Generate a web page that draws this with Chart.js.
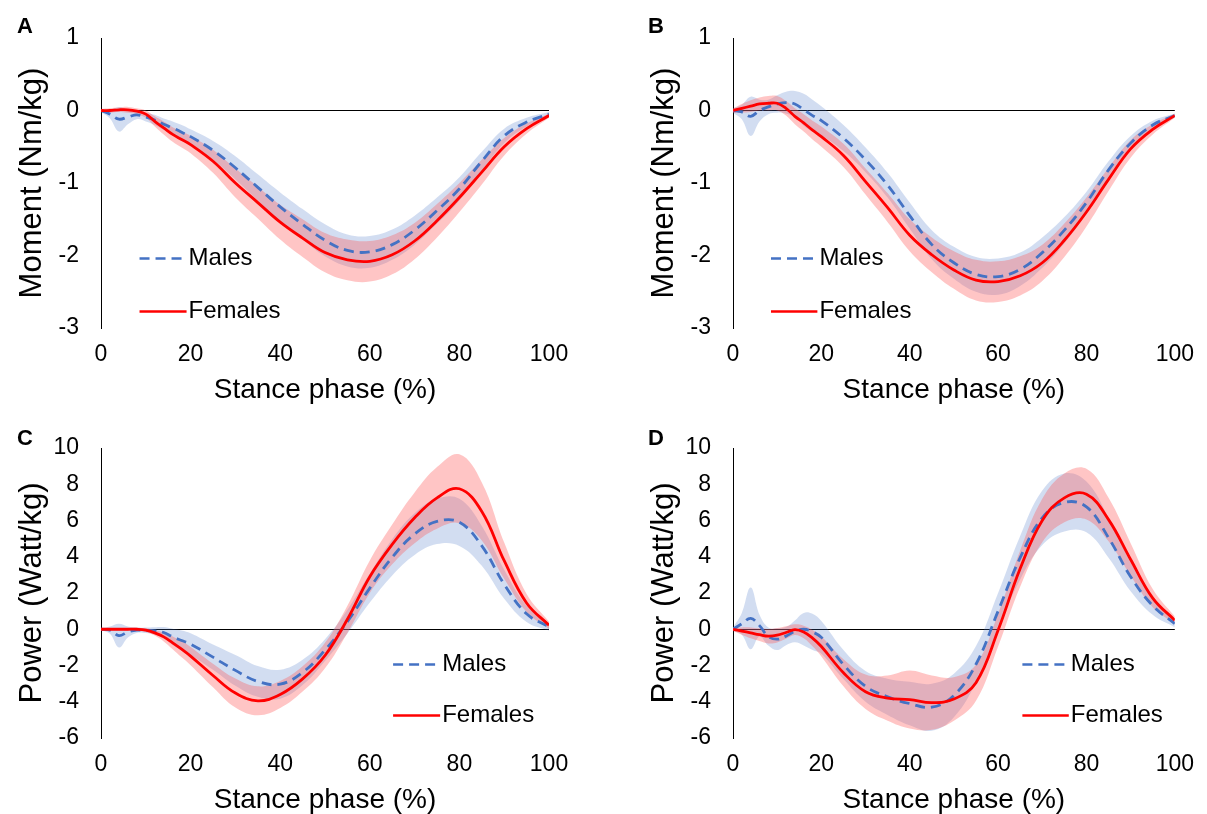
<!DOCTYPE html>
<html>
<head>
<meta charset="utf-8">
<title>Stance phase moment and power</title>
<script src="https://cdn.jsdelivr.net/npm/chart.js@4.4.1/dist/chart.umd.min.js"></script>
<style>
  body {
    margin: 0;
    width: 1207px;
    height: 814px;
    overflow: hidden;
    position: relative;
    background: #fff;
    font-family: Arial, "Liberation Sans", sans-serif;
  }
  .panel { position: absolute; }
  .letter { position: absolute; font-weight: bold; font-size: 22px; color: #000; }
</style>
</head>
<body>
<div class="panel" style="left:0;top:0;width:600px;height:410px"><canvas id="chartA"></canvas></div>
<div class="panel" style="left:632px;top:0;width:575px;height:410px"><canvas id="chartB"></canvas></div>
<div class="panel" style="left:0;top:410px;width:600px;height:404px"><canvas id="chartC"></canvas></div>
<div class="panel" style="left:632px;top:410px;width:575px;height:404px"><canvas id="chartD"></canvas></div>
<div class="letter" style="left:17px;top:13px">A</div>
<div class="letter" style="left:648px;top:13px">B</div>
<div class="letter" style="left:17px;top:425px">C</div>
<div class="letter" style="left:648px;top:425px">D</div>

<script>
const FONT = 'Arial, "Liberation Sans", sans-serif';

// stance phase (%) sample points
const stance = [0, 2, 4, 6, 8, 10, 12, 14, 16, 18, 20, 25, 30, 35, 40, 45, 50, 55, 60, 65, 70, 75, 80, 85, 90, 95, 100];

// A - moment (Nm/kg)
const momentAMales = [0, -0.05, -0.12, -0.09, -0.06, -0.09, -0.13, -0.19, -0.24, -0.3, -0.36, -0.55, -0.79, -1.06, -1.33, -1.57, -1.79, -1.93, -1.95, -1.85, -1.65, -1.38, -1.08, -0.7, -0.35, -0.16, -0.05];
const momentAMalesSd = [0.02, 0.06, 0.17, 0.1, 0.06, 0.06, 0.07, 0.08, 0.09, 0.1, 0.1, 0.13, 0.16, 0.18, 0.2, 0.21, 0.22, 0.22, 0.22, 0.21, 0.2, 0.18, 0.16, 0.13, 0.1, 0.06, 0.03];
const momentAFemales = [0, 0, 0.01, 0.01, -0.01, -0.05, -0.15, -0.24, -0.33, -0.4, -0.47, -0.7, -1.0, -1.27, -1.54, -1.76, -1.96, -2.06, -2.08, -1.99, -1.8, -1.52, -1.2, -0.85, -0.5, -0.25, -0.07];
const momentAFemalesSd = [0.02, 0.03, 0.03, 0.04, 0.04, 0.05, 0.07, 0.09, 0.1, 0.11, 0.12, 0.16, 0.2, 0.22, 0.24, 0.26, 0.27, 0.28, 0.28, 0.27, 0.25, 0.23, 0.2, 0.17, 0.12, 0.07, 0.03];

// B - moment (Nm/kg)
const momentBMales = [0, -0.02, -0.08, 0.0, 0.05, 0.09, 0.11, 0.09, 0.01, -0.07, -0.14, -0.38, -0.68, -1.03, -1.45, -1.85, -2.1, -2.26, -2.29, -2.19, -1.96, -1.65, -1.27, -0.82, -0.45, -0.2, -0.07];
const momentBMalesSd = [0.03, 0.1, 0.27, 0.15, 0.1, 0.12, 0.15, 0.18, 0.22, 0.22, 0.2, 0.18, 0.17, 0.17, 0.18, 0.2, 0.22, 0.24, 0.25, 0.23, 0.21, 0.18, 0.15, 0.12, 0.1, 0.06, 0.03];
const momentBFemales = [0, 0.03, 0.06, 0.09, 0.1, 0.1, 0.03, -0.08, -0.17, -0.27, -0.36, -0.62, -0.98, -1.34, -1.72, -1.99, -2.2, -2.34, -2.36, -2.28, -2.1, -1.79, -1.4, -0.95, -0.53, -0.26, -0.07];
const momentBFemalesSd = [0.03, 0.06, 0.08, 0.09, 0.1, 0.1, 0.1, 0.11, 0.12, 0.13, 0.14, 0.16, 0.18, 0.2, 0.22, 0.24, 0.26, 0.28, 0.28, 0.27, 0.25, 0.23, 0.2, 0.16, 0.12, 0.07, 0.03];

// C - power (Watt/kg)
const powerCMales = [0, -0.05, -0.35, -0.15, -0.05, -0.06, -0.09, -0.18, -0.42, -0.62, -0.82, -1.54, -2.27, -2.88, -3.03, -2.38, -1.15, 0.42, 2.27, 3.97, 5.25, 5.95, 5.9, 4.6, 2.48, 0.85, 0.13];
const powerCMalesSd = [0.05, 0.2, 0.65, 0.3, 0.15, 0.15, 0.2, 0.3, 0.45, 0.55, 0.6, 0.7, 0.85, 0.85, 0.8, 0.7, 0.6, 0.65, 0.8, 1.0, 1.15, 1.25, 1.3, 1.1, 0.8, 0.45, 0.2];
const powerCFemales = [0, 0, 0, 0, 0, -0.05, -0.2, -0.42, -0.75, -1.1, -1.48, -2.55, -3.52, -3.95, -3.6, -2.74, -1.45, 0.55, 2.9, 4.68, 6.15, 7.25, 7.75, 6.5, 3.78, 1.45, 0.22];
const powerCFemalesSd = [0.05, 0.05, 0.06, 0.07, 0.08, 0.1, 0.15, 0.25, 0.35, 0.45, 0.5, 0.65, 0.8, 0.8, 0.75, 0.7, 0.7, 0.75, 0.9, 1.1, 1.4, 1.7, 1.9, 1.6, 1.0, 0.5, 0.2];

// D - power (Watt/kg)
const powerDMales = [0, 0.3, 0.6, 0.2, -0.4, -0.55, -0.38, -0.12, 0.0, -0.15, -0.45, -1.95, -3.15, -3.73, -4.1, -4.3, -3.65, -1.93, 1.0, 3.95, 6.15, 7.0, 6.75, 5.05, 2.9, 1.3, 0.31];
const powerDMalesSd = [0.1, 0.6, 1.7, 0.6, 0.5, 0.6, 0.5, 0.6, 0.9, 1.0, 0.9, 0.8, 0.85, 1.0, 1.2, 1.3, 1.2, 1.0, 1.0, 1.2, 1.5, 1.6, 1.4, 1.1, 0.8, 0.5, 0.2];
const powerDFemales = [0, -0.1, -0.2, -0.3, -0.38, -0.33, -0.18, -0.02, -0.15, -0.49, -0.95, -2.4, -3.45, -3.8, -3.88, -4.05, -3.85, -2.95, -0.05, 3.35, 6.0, 7.25, 7.45, 6.05, 3.85, 1.72, 0.5];
const powerDFemalesSd = [0.1, 0.2, 0.3, 0.35, 0.4, 0.4, 0.35, 0.3, 0.35, 0.45, 0.55, 0.75, 0.95, 1.25, 1.6, 1.5, 1.2, 1.0, 0.9, 1.0, 1.2, 1.35, 1.4, 1.2, 0.9, 0.5, 0.2];

const xTicks = [0, 20, 40, 60, 80, 100];

const BLUE = "#4472C4";
const RED = "#FF0000";
const BLUE_BAND = "rgba(68, 114, 196, 0.24)";
const RED_BAND = "rgba(255, 80, 80, 0.33)";

function pts(mean, sd, sign) {
  return stance.map((x, i) => ({ x: x, y: mean[i] + sign * (sd ? sd[i] : 0) }));
}

// legend drawn inside the plot, like the original
const panelLegend = {
  id: "panelLegend",
  afterDatasetsDraw(chart, args, opts) {
    const { ctx, scales } = chart;
    const x0 = scales.x.getPixelForValue(opts.x);
    const x1 = scales.x.getPixelForValue(opts.x + 10.5);
    ctx.save();
    ctx.font = "24px " + FONT;
    ctx.textBaseline = "middle";
    ctx.fillStyle = "#000";
    opts.items.forEach((item) => {
      const yy = Math.round(scales.y.getPixelForValue(item.y)) + 0.5;
      ctx.beginPath();
      ctx.strokeStyle = item.color;
      ctx.lineWidth = 2.6;
      ctx.setLineDash(item.dash);
      ctx.moveTo(x0, yy);
      ctx.lineTo(x1, yy);
      ctx.stroke();
      ctx.fillText(item.label, x1 + 2, yy);
    });
    ctx.restore();
  },
};

function buildPanel(id, p) {
  const datasets = [
    {
      label: "Females",
      data: pts(p.females, null, 0),
      borderColor: RED,
      borderWidth: 2.8,
      pointRadius: 0,
      tension: 0.4,
      fill: false,
    },
    {
      label: "Males",
      data: pts(p.males, null, 0),
      borderColor: BLUE,
      borderWidth: 2.8,
      borderDash: [10, 6],
      pointRadius: 0,
      tension: 0.4,
      fill: false,
    },
    {
      label: "Females +SD",
      data: pts(p.females, p.femalesSd, 1),
      borderWidth: 0,
      pointRadius: 0,
      tension: 0.4,
      fill: false,
    },
    {
      label: "Females -SD",
      data: pts(p.females, p.femalesSd, -1),
      borderWidth: 0,
      pointRadius: 0,
      tension: 0.4,
      fill: 2,
      backgroundColor: RED_BAND,
    },
    {
      label: "Males +SD",
      data: pts(p.males, p.malesSd, 1),
      borderWidth: 0,
      pointRadius: 0,
      tension: 0.4,
      fill: false,
    },
    {
      label: "Males -SD",
      data: pts(p.males, p.malesSd, -1),
      borderWidth: 0,
      pointRadius: 0,
      tension: 0.4,
      fill: 4,
      backgroundColor: BLUE_BAND,
    },
  ];

  const options = {
    responsive: true,
    maintainAspectRatio: false,
    animation: false,
    layout: {
      padding: { left: 0, right: p.padRight, top: 38, bottom: 0 },
    },
    plugins: {
      legend: { display: false },
      tooltip: { enabled: false },
      panelLegend: {
        x: p.legendX,
        items: [
          { label: "Males", color: BLUE, dash: [10, 6], y: p.legendY[0] },
          { label: "Females", color: RED, dash: [], y: p.legendY[1] },
        ],
      },
    },
    scales: {
      x: {
        type: "linear",
        min: 0,
        max: 100,
        afterFit: (scale) => {
          scale.height = p.xHeight;
        },
        afterBuildTicks: (scale) => {
          scale.ticks = xTicks.map((v) => ({ value: v }));
        },
        grid: { display: false, drawTicks: false },
        border: { display: false },
        ticks: {
          color: "#000",
          padding: 13,
          maxRotation: 0,
          font: { family: FONT, size: 23 },
        },
        title: {
          display: true,
          text: "Stance phase (%)",
          color: "#000",
          font: { family: FONT, size: 28, lineHeight: 1 },
          padding: { top: 0, bottom: p.titlePad },
        },
      },
      y: {
        min: p.yMin,
        max: p.yMax,
        afterFit: (scale) => {
          scale.width = 101;
        },
        grid: {
          drawTicks: false,
          color: (ctx) => (ctx.tick && ctx.tick.value === 0 ? "#000" : "rgba(0,0,0,0)"),
          lineWidth: 1,
        },
        border: { display: true, color: "#000", width: 1 },
        ticks: {
          stepSize: p.yStep,
          color: "#000",
          padding: 22,
          font: { family: FONT, size: 23 },
        },
        title: {
          display: true,
          text: p.yTitle,
          color: "#000",
          font: { family: FONT, size: 31, lineHeight: 1 },
          padding: { top: 17, bottom: 0 },
        },
      },
    },
  };

  return new Chart(document.getElementById(id), {
    type: "line",
    data: { datasets: datasets },
    options: options,
    plugins: [panelLegend],
  });
}

buildPanel("chartA", {
  males: momentAMales, malesSd: momentAMalesSd,
  females: momentAFemales, femalesSd: momentAFemalesSd,
  yMin: -3, yMax: 1, yStep: 1, yTitle: "Moment (Nm/kg)",
  padRight: 51, xHeight: 82, titlePad: 6,
  legendX: 8.6, legendY: [-2.04, -2.77],
});

buildPanel("chartB", {
  males: momentBMales, malesSd: momentBMalesSd,
  females: momentBFemales, femalesSd: momentBFemalesSd,
  yMin: -3, yMax: 1, yStep: 1, yTitle: "Moment (Nm/kg)",
  padRight: 27, xHeight: 82, titlePad: 6,
  legendX: 8.6, legendY: [-2.04, -2.77],
});

buildPanel("chartC", {
  males: powerCMales, malesSd: powerCMalesSd,
  females: powerCFemales, femalesSd: powerCFemalesSd,
  yMin: -6, yMax: 10, yStep: 2, yTitle: "Power (Watt/kg)",
  padRight: 51, xHeight: 76, titlePad: 0,
  legendX: 65.2, legendY: [-1.9, -4.75],
});

buildPanel("chartD", {
  males: powerDMales, malesSd: powerDMalesSd,
  females: powerDFemales, femalesSd: powerDFemalesSd,
  yMin: -6, yMax: 10, yStep: 2, yTitle: "Power (Watt/kg)",
  padRight: 27, xHeight: 76, titlePad: 0,
  legendX: 65.5, legendY: [-1.9, -4.75],
});
</script>
</body>
</html>
